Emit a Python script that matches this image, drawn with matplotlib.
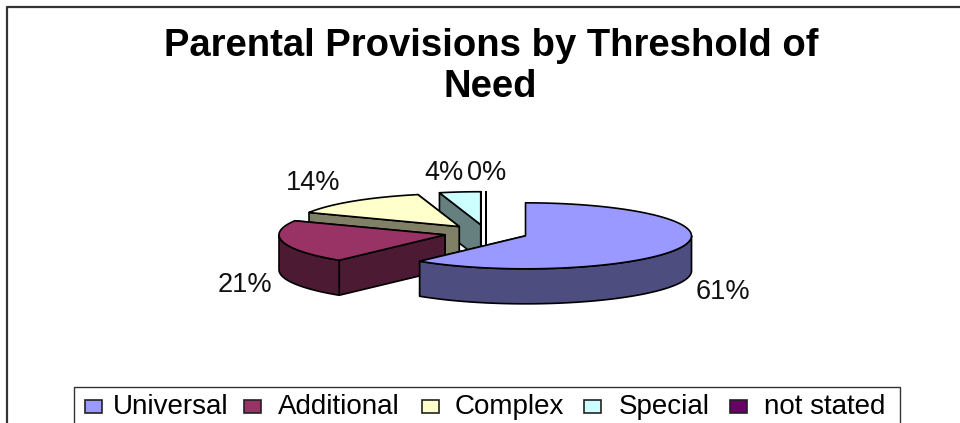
import numpy as np
import matplotlib
matplotlib.use("Agg")
import matplotlib.pyplot as plt
from matplotlib.patches import Polygon, Rectangle

plt.rcParams['font.family'] = ['Liberation Sans', 'DejaVu Sans']

# data
categories = ['Universal', 'Additional', 'Complex', 'Special', 'not stated']
values = [61, 21, 14, 4, 0]
pct_labels = ['61%', '21%', '14%', '4%', '0%']
colors = ['#9999FF', '#993366', '#FFFFCC', '#CCFFFF', '#660066']
sides = ['#4D4D80', '#4D1A33', '#808066', '#668080', '#330033']
title_lines = ['Parental Provisions by Threshold of', 'Need']

# layout in pixels
cx, cy = 486, 233
rx, ry = 166, 33
depth = 35
explode = 42
label_xy = [(723, 292), (245, 285), (313, 183), (444, 173), (487, 173)]
swatch_x = [85, 244, 422, 584, 730]
legend_text_x = [113, 278, 455, 619, 764]

fig = plt.figure(figsize=(9.6, 4.23), dpi=100)
ax = fig.add_axes([0, 0, 1, 1])
ax.set_xlim(0, 960)
ax.set_ylim(423, 0)
ax.axis('off')

# chart frame, it runs off the top right and bottom of the picture
ax.plot([7, 7, 960], [423, 7.5, 7.5], color='#333333', lw=1.6)

ax.text(491, 46, title_lines[0], ha='center', va='center', fontsize=27.5, fontweight='bold')
ax.text(490, 87, title_lines[1], ha='center', va='center', fontsize=27.5, fontweight='bold')


def rim(ox, oy, a1, a2):
    t = np.radians(np.linspace(a1, a2, 80))
    return np.column_stack([ox + rx * np.cos(t), oy - ry * np.sin(t)])


# slice angles run clockwise from 12 o'clock
total = sum(values)
ends = 90 - np.cumsum(values) / total * 360
starts = np.r_[90, ends[:-1]]

# back slices first, so the front ones cover them
for i in [4, 3, 2, 1, 0]:
    mid = np.radians((starts[i] + ends[i]) / 2)
    ox = cx + explode * np.cos(mid)
    oy = cy - explode * ry / rx * np.sin(mid)
    z = 5 - i
    edge = dict(edgecolor='black', lw=1.2, joinstyle='round')

    # radial walls, the one further back first
    for a in sorted([starts[i], ends[i]], key=lambda v: -np.sin(np.radians(v))):
        p = rim(ox, oy, a, a)[0]
        wall = [(ox, oy), p, (p[0], p[1] + depth), (ox, oy + depth)]
        ax.add_patch(Polygon(wall, closed=True, facecolor=sides[i], zorder=z, **edge))

    # outer side, only the part facing the viewer
    a1, a2 = min(starts[i], 0), max(ends[i], -180)
    if a1 > a2:
        top = rim(ox, oy, a1, a2)
        low = top[::-1] + [0, depth]
        ax.add_patch(Polygon(np.vstack([top, low]), closed=True, facecolor=sides[i], zorder=z, **edge))

    ax.add_patch(Polygon(np.vstack([[ox, oy], rim(ox, oy, starts[i], ends[i])]), closed=True,
                         facecolor=colors[i], zorder=z, **edge))

for lab, (x, y) in zip(pct_labels, label_xy):
    ax.text(x, y, lab, ha='center', va='center', fontsize=19.5, color='#111111', zorder=10)

# legend box, cut off by the bottom of the picture
ax.add_patch(Rectangle((74, 387), 826, 40, facecolor='white', edgecolor='#333333', lw=1.0, zorder=11))
for name, col, sx, tx in zip(categories, colors, swatch_x, legend_text_x):
    ax.add_patch(Rectangle((sx, 400), 17, 13, facecolor=col, edgecolor='#222222', lw=1.2, zorder=12))
    ax.text(tx, 407, name, ha='left', va='center', fontsize=20, color='black', zorder=12)

fig.savefig('out.png', dpi=100)
